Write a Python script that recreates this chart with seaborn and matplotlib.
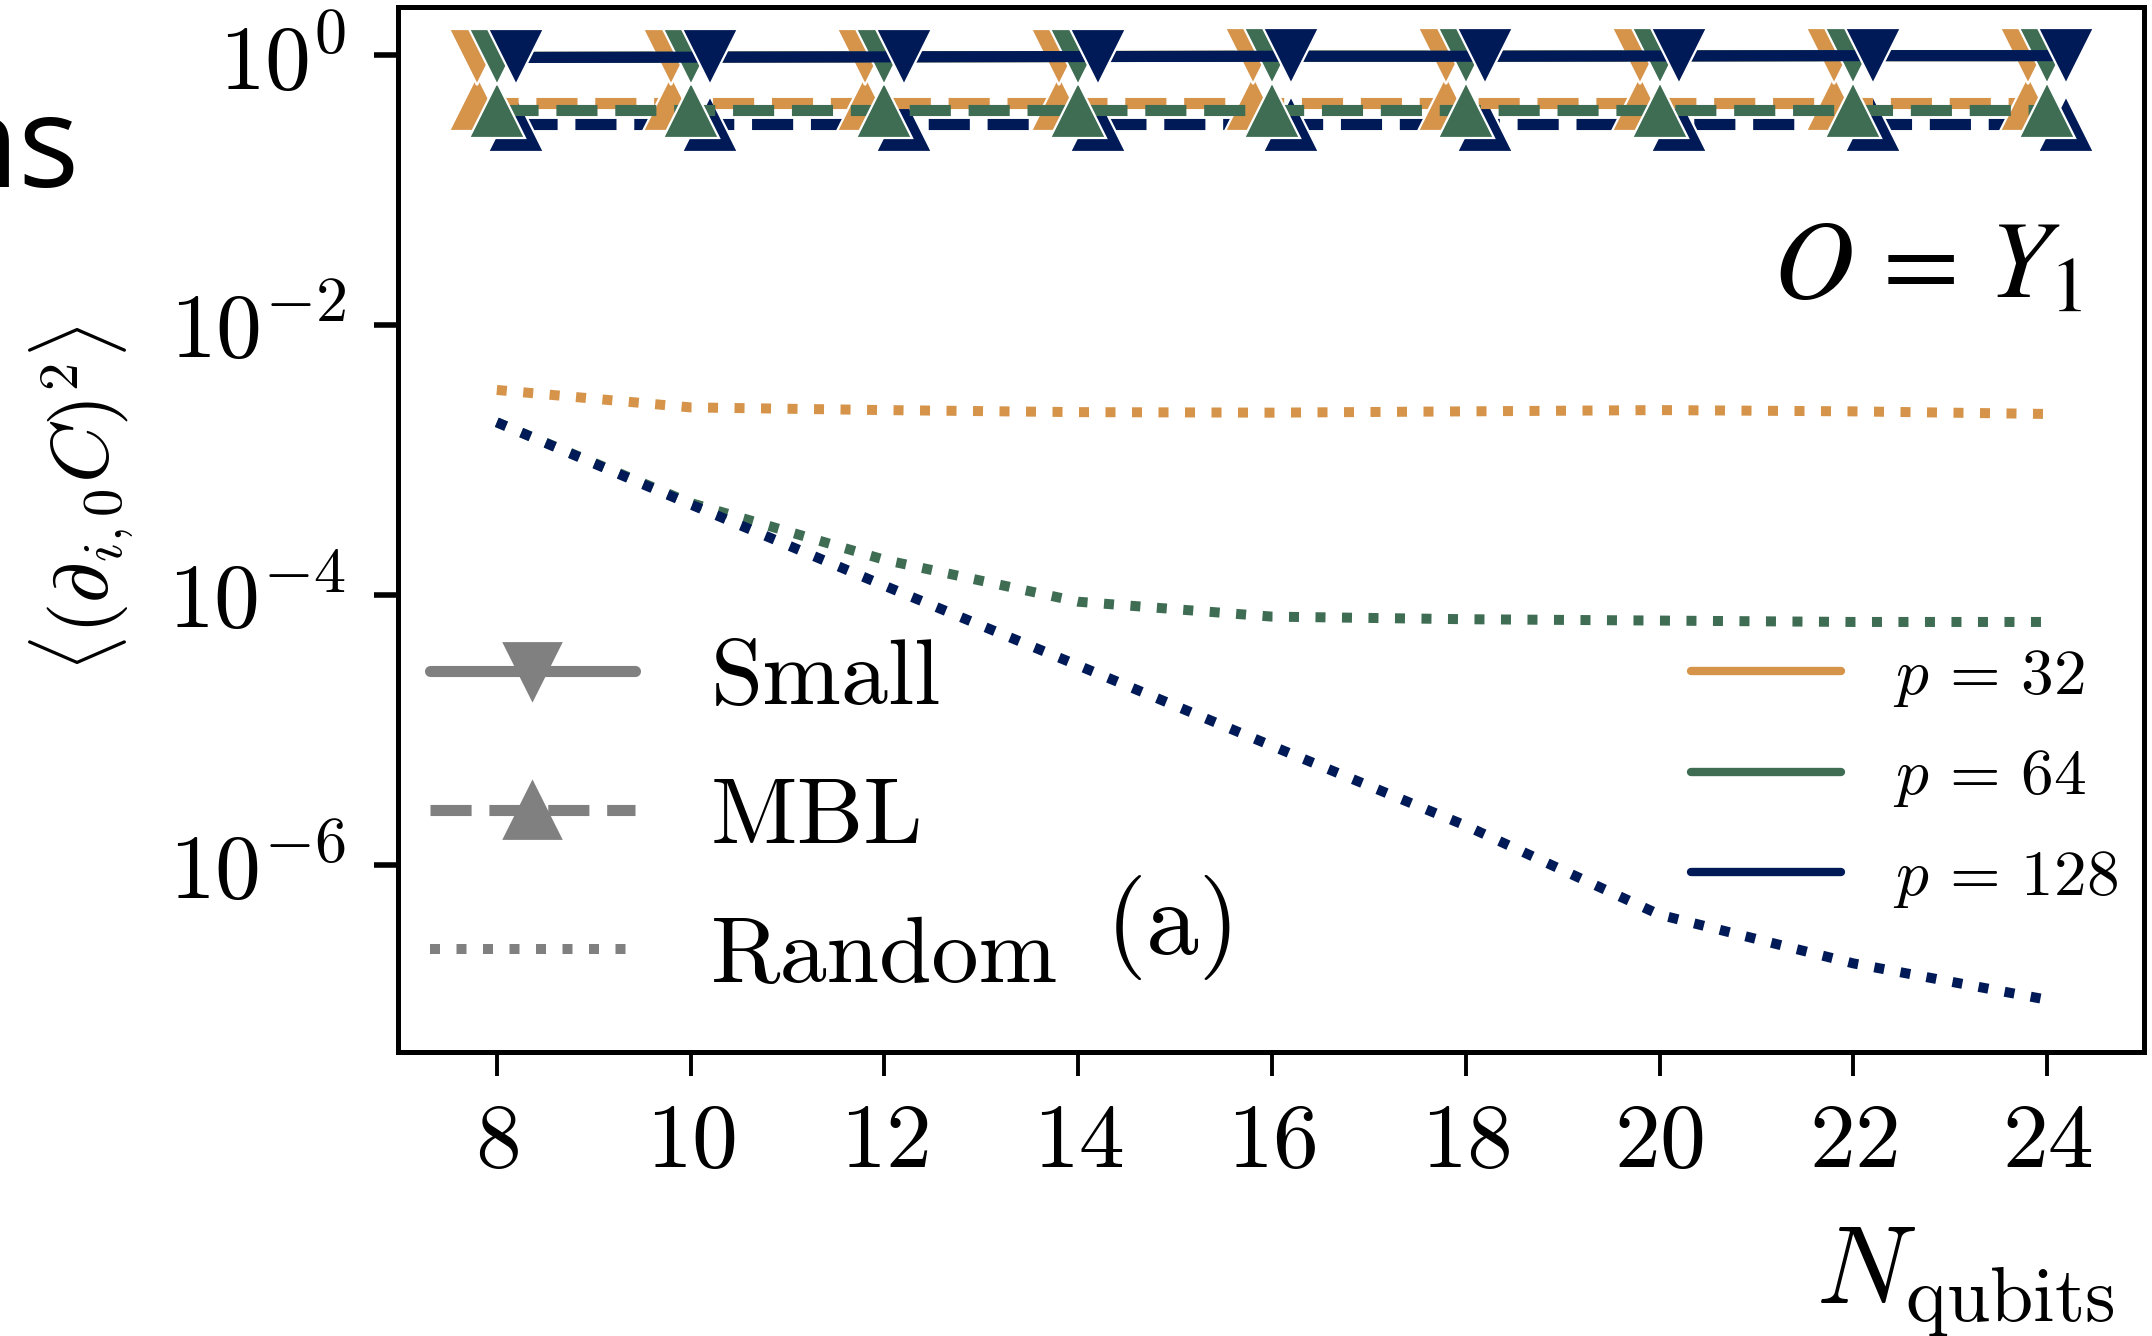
import matplotlib
matplotlib.use("Agg")
import matplotlib.pyplot as plt
import seaborn as sns
import numpy as np
from matplotlib.lines import Line2D
from matplotlib.ticker import NullLocator

# data
n_qubits = [8, 10, 12, 14, 16, 18, 20, 22, 24]
p_labels = [r"$p\,=\,32$", r"$p\,=\,64$", r"$p\,=\,128$"]

small_32 = [0.96, 0.965, 0.97, 0.975, 0.98, 0.98, 0.985, 0.99, 0.99]
small_64 = [0.96, 0.965, 0.97, 0.975, 0.98, 0.98, 0.985, 0.99, 0.99]
small_128 = [0.96, 0.965, 0.97, 0.975, 0.98, 0.98, 0.985, 0.99, 0.99]

mbl_32 = [0.44, 0.44, 0.44, 0.44, 0.44, 0.44, 0.44, 0.44, 0.44]
mbl_64 = [0.39, 0.39, 0.39, 0.39, 0.39, 0.39, 0.39, 0.39, 0.39]
mbl_128 = [0.31, 0.31, 0.31, 0.31, 0.31, 0.31, 0.31, 0.31, 0.31]

random_32 = [3.3e-3, 2.45e-3, 2.34e-3, 2.26e-3, 2.24e-3, 2.29e-3, 2.34e-3, 2.29e-3, 2.19e-3]
random_64 = [1.9e-3, 4.8e-4, 1.82e-4, 8.9e-5, 6.9e-5, 6.6e-5, 6.45e-5, 6.3e-5, 6.3e-5]
random_128 = [1.9e-3, 4.68e-4, 1.17e-4, 3.0e-5, 7.6e-6, 1.95e-6, 4.27e-7, 1.86e-7, 1.0e-7]

# style
COLORS = ["#D5944A", "#3F6D54", "#001A57"]
OFFSETS = [-0.2, 0.0, 0.2]
LW = 4
MS = 20

sns.set_theme(style="ticks")
plt.rcParams["font.family"] = "serif"
plt.rcParams["font.serif"] = ["cmr10"]
plt.rcParams["mathtext.fontset"] = "cm"
plt.rcParams["axes.formatter.use_mathtext"] = True
plt.rcParams["axes.unicode_minus"] = False
for key in ["text.color", "axes.labelcolor", "xtick.color", "ytick.color",
            "xtick.labelcolor", "ytick.labelcolor", "axes.edgecolor"]:
    plt.rcParams[key] = "black"

fig = plt.figure(figsize=(10.76, 6.68), dpi=200)
ax = fig.add_axes([0.18494, 0.21257, 0.81134, 0.78219])

x = np.array(n_qubits)
mbl = [mbl_32, mbl_64, mbl_128]
small = [small_32, small_64, small_128]
rand = [random_32, random_64, random_128]

# MBL (dashed, up triangles)
for i in [2, 0, 1]:
    sns.lineplot(x=x + OFFSETS[i], y=mbl[i], ax=ax, color=COLORS[i], linestyle="--",
                 linewidth=LW, marker="^", markersize=MS, markeredgecolor="white",
                 markeredgewidth=0.8, legend=False)
# Small (solid, down triangles)
for i in [0, 1, 2]:
    sns.lineplot(x=x + OFFSETS[i], y=small[i], ax=ax, color=COLORS[i], linestyle="-",
                 linewidth=LW, marker="v", markersize=MS, markeredgecolor="white",
                 markeredgewidth=0.8, legend=False)
# Random (dotted)
for i in [0, 1, 2]:
    sns.lineplot(x=x, y=rand[i], ax=ax, color=COLORS[i], linestyle=":",
                 linewidth=3.6, legend=False)

ax.set_yscale("log")
ax.set_xlim(6.98, 25.0)
ax.set_ylim(4.1e-8, 2.27)
ax.set_xticks(n_qubits)
ax.set_yticks([1, 1e-2, 1e-4, 1e-6])
ax.yaxis.set_minor_locator(NullLocator())

for s in ax.spines.values():
    s.set_linewidth(1.8)
    s.set_color("black")
ax.tick_params(axis="both", which="major", direction="out", length=8.6,
               pad=10, labelsize=33, color="black", labelcolor="black")
ax.tick_params(axis="x", width=1.4)
ax.tick_params(axis="y", width=2.0)

ax.set_xlabel(r"$N_{\mathrm{qubits}}$", fontsize=40)
ax.xaxis.label.set_ha("right")
ax.xaxis.set_label_coords(0.983, -0.166)
ax.set_ylabel(r"$\langle(\partial_{i,0}C)^2\rangle$", fontsize=29)
ax.yaxis.set_label_coords(-0.150, 0.53)

# method legend
method_handles = [
    Line2D([], [], color="gray", lw=LW, ls="-", marker="v", markersize=MS),
    Line2D([], [], color="gray", lw=LW, ls="--", marker="^", markersize=MS),
    Line2D([], [], color="gray", lw=3.6, ls=":"),
]
leg1 = ax.legend(method_handles, ["Small", "MBL", "Random"], loc="upper left",
                 bbox_to_anchor=(0.0183, 0.396), frameon=False, fontsize=34,
                 handlelength=2.17, handletextpad=0.8, labelspacing=0.58,
                 borderpad=0, borderaxespad=0)
ax.add_artist(leg1)

# depth legend
p_handles = [Line2D([], [], color=c, lw=3) for c in COLORS]
ax.legend(p_handles, p_labels, loc="upper left", bbox_to_anchor=(0.7405, 0.387),
          frameon=False, fontsize=23.5, handlelength=2.3, handletextpad=0.8,
          labelspacing=0.61, borderpad=0, borderaxespad=0)

ax.text(0.965, 0.7215, r"$O\,=\,Y_1$", transform=ax.transAxes, ha="right",
        va="baseline", fontsize=40, math_fontfamily="stix")
ax.text(0.444, 0.1196, "(a)", transform=ax.transAxes, ha="center", va="center",
        fontsize=38)

fig.text(0.037, 0.86, "ns", ha="right", va="baseline", fontsize=46,
         family="Open Sans")

fig.savefig("out.png", dpi=200)
